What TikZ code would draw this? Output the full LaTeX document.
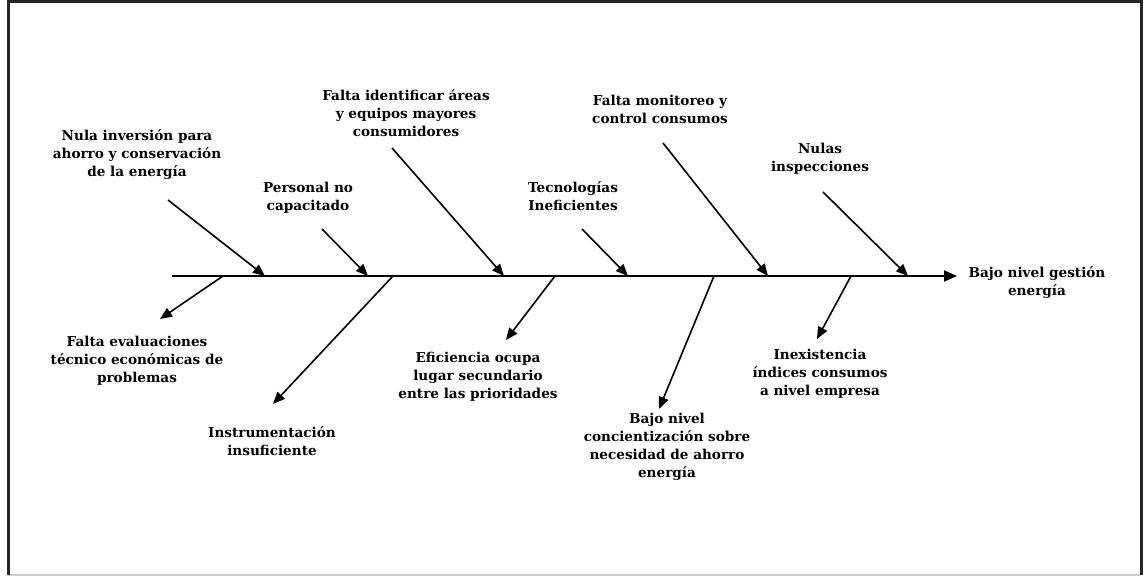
\documentclass[tikz,border=0pt]{standalone}
\usepackage{fontspec}
\setmainfont{DejaVu Serif}
\usetikzlibrary{arrows.meta}
\begin{document}
\begin{tikzpicture}[x=1pt,y=-1pt,
  lbl/.style={font=\bfseries\fontsize{13.6}{18}\selectfont, align=center, inner sep=0pt},
  cause/.style={line width=1.6pt, -{Triangle[length=12pt,width=10pt]}},
  spine/.style={line width=1.8pt, -{Triangle[length=13pt,width=11pt]}}]
\useasboundingbox (0,0) rectangle (1144,577);
% frame
\draw[line width=1.5pt, gray!40] (8,575) -- (1141,575);
\draw[line width=3pt, black!85] (8,575) -- (8,2) -- (1141,2) -- (1141,575);
% spine
\coordinate (s0) at (172,276);
\coordinate (s1) at (957,276);
\draw[spine] (s0) -- (s1);
\node[lbl] (effect) at (1037,283) {Bajo nivel gestión\\energía};
% upper causes
\node[lbl] (u1) at (137,155) {Nula inversión para\\ahorro y conservación\\de la energía};
\node[lbl] (u2) at (308,198) {Personal no\\capacitado};
\node[lbl] (u3) at (406,113) {Falta identificar áreas\\y equipos mayores\\consumidores};
\node[lbl] (u4) at (573,196) {Tecnologías\\Ineficientes};
\node[lbl] (u5) at (660,109) {Falta monitoreo y\\control consumos};
\node[lbl] (u6) at (820,159) {Nulas\\inspecciones};
\coordinate (u1a) at (168,200); \coordinate (u1b) at (265,276);
\coordinate (u2a) at (322,229); \coordinate (u2b) at (368,276);
\coordinate (u3a) at (392,148); \coordinate (u3b) at (504,276);
\coordinate (u4a) at (582,229); \coordinate (u4b) at (628,276);
\coordinate (u5a) at (663,143); \coordinate (u5b) at (768,276);
\coordinate (u6a) at (823,192); \coordinate (u6b) at (908,276);
\foreach \i in {1,...,6} \draw[cause] (u\i a) -- (u\i b);
% lower causes
\node[lbl] (d1) at (137,361) {Falta evaluaciones\\técnico económicas de\\problemas};
\node[lbl] (d2) at (272,441) {Instrumentación\\insuficiente};
\node[lbl] (d3) at (478,377) {Eficiencia ocupa\\lugar secundario\\entre las prioridades};
\node[lbl] (d4) at (667,447) {Bajo nivel\\concientización sobre\\necesidad de ahorro\\energía};
\node[lbl] (d5) at (820,374) {Inexistencia\\índices consumos\\a nivel empresa};
\coordinate (d1a) at (223,276); \coordinate (d1b) at (160,319);
\coordinate (d2a) at (393,276); \coordinate (d2b) at (273,404);
\coordinate (d3a) at (555,276); \coordinate (d3b) at (506,340);
\coordinate (d4a) at (714,276); \coordinate (d4b) at (659,409);
\coordinate (d5a) at (851,276); \coordinate (d5b) at (817,339);
\foreach \i in {1,...,5} \draw[cause] (d\i a) -- (d\i b);
\end{tikzpicture}
\end{document}
